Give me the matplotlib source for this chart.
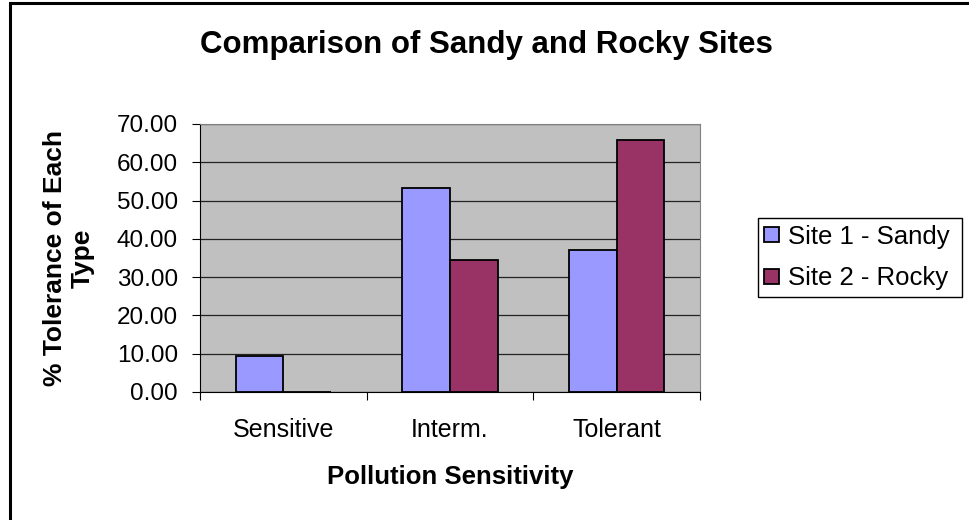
import numpy as np
import matplotlib.pyplot as plt
from matplotlib.patches import Rectangle

# Data
categories = ['Sensitive', 'Interm.', 'Tolerant']
sandy = [9.4, 53.2, 37.1]
rocky = [0.0, 34.5, 65.8]
series_names = ['Site 1 - Sandy', 'Site 2 - Rocky']
yticks = [0, 10, 20, 30, 40, 50, 60, 70]

plt.rcParams['font.family'] = ['Liberation Sans', 'DejaVu Sans']

fig = plt.figure(figsize=(9.69, 5.2), dpi=100)

# Outer chart border (left and top visible, rest cut off)
fig.patches.append(Rectangle((10/969, -0.1), 1.2, 1 - 3/520 + 0.1,
                             transform=fig.transFigure, fill=False,
                             edgecolor='black', linewidth=2.2))

ax = fig.add_axes([200/969, 1 - 392/520, 500/969, 268/520])
ax.set_facecolor('#C0C0C0')

x = np.arange(len(categories))
w = 1 / 3.5
ax.bar(x - w/2, sandy, w, color='#9999FF', edgecolor='black', linewidth=1.3,
       label=series_names[0], zorder=3)
ax.bar(x + w/2, rocky, w, color='#993366', edgecolor='black', linewidth=1.3,
       label=series_names[1], zorder=3)

ax.set_xlim(-0.5, len(categories) - 0.5)
ax.set_ylim(0, 70)
ax.set_yticks(yticks)
ax.set_yticklabels(['%.2f' % v for v in yticks], fontsize=17.5)
ax.yaxis.grid(True, color='#222222', linewidth=0.9, zorder=1)
ax.set_axisbelow(True)

# category labels between boundary ticks
ax.set_xticks(np.arange(len(categories) + 1) - 0.5)
ax.set_xticklabels([])
ax.set_xticks(x, minor=True)
ax.set_xticklabels(categories, minor=True, fontsize=18)
ax.tick_params(axis='x', which='minor', length=0, pad=19)
ax.tick_params(axis='x', which='major', length=6, direction='out', color='black')
ax.tick_params(axis='y', length=6, direction='out', color='black', pad=10)

for side in ['top', 'right']:
    ax.spines[side].set_color('#808080')
ax.spines['left'].set_color('black')
ax.spines['bottom'].set_color('black')

ax.set_xlabel('Pollution Sensitivity', fontsize=18.5, fontweight='bold', labelpad=16)
ax.set_ylabel('% Tolerance of Each\nType', fontsize=19, fontweight='bold', labelpad=16)

fig.text(486/969, 1 - 45/520, 'Comparison of Sandy and Rocky Sites',
         ha='center', va='center', fontsize=22.5, fontweight='bold')

leg = ax.legend(loc='center left', bbox_to_anchor=(758/969, 1 - 299/520, 204/969, 83/520),
                bbox_transform=fig.transFigure, mode='expand', fontsize=18.5,
                frameon=True, fancybox=False, edgecolor='black', framealpha=1,
                handlelength=0.55, handleheight=0.55, handletextpad=0.35,
                borderaxespad=0, labelspacing=0.7, borderpad=0.25)
leg.get_frame().set_linewidth(1.0)

fig.savefig('out.png', dpi=100)
